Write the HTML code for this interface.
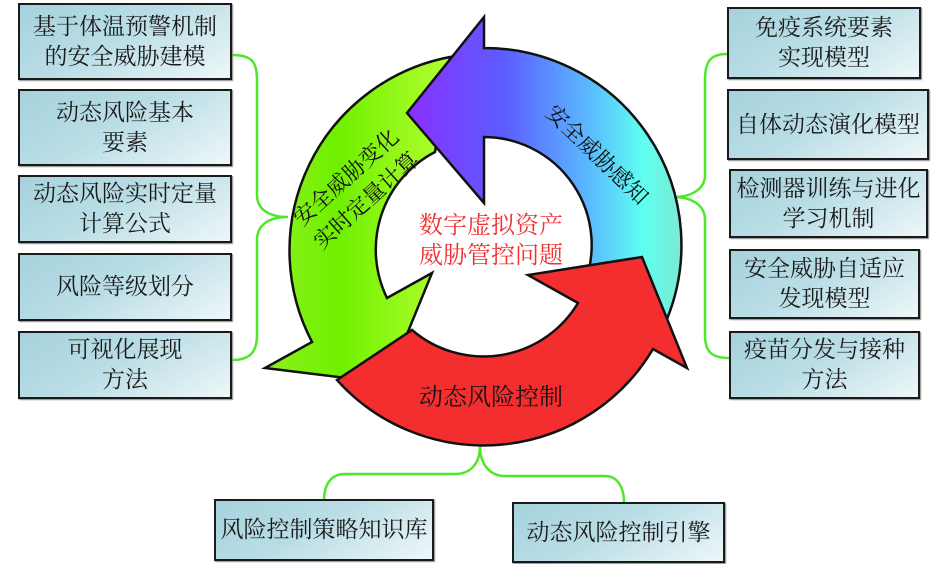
<!DOCTYPE html>
<html><head><meta charset="utf-8"><style>
html,body{margin:0;padding:0;background:#fff;}
body{width:945px;height:564px;position:relative;overflow:hidden;font-family:"Liberation Serif","Noto Serif CJK SC",serif;}
.b{position:absolute;box-sizing:border-box;border:2.5px solid #1a1a1a;background:linear-gradient(150deg,#a6d2dd 0%,#b9dde5 45%,#eef7f9 100%);display:flex;align-items:center;justify-content:center;text-align:center;font-size:23px;line-height:30px;color:#1a1a1a;box-shadow:1px 1px 1px #888;}
svg{position:absolute;left:0;top:0;}
</style></head><body>
<svg width="945" height="564" viewBox="0 0 945 564">
<defs>
<linearGradient id="gb" x1="407" y1="0" x2="685" y2="0" gradientUnits="userSpaceOnUse">
<stop offset="0" stop-color="#8a30ff"/><stop offset="0.35" stop-color="#5c5cff"/><stop offset="0.65" stop-color="#5ab8ff"/><stop offset="0.85" stop-color="#5ffff0"/><stop offset="1" stop-color="#7ee8d0"/></linearGradient>
<linearGradient id="gg" x1="265" y1="0" x2="450" y2="0" gradientUnits="userSpaceOnUse">
<stop offset="0" stop-color="#8cf020"/><stop offset="0.4" stop-color="#70f000"/><stop offset="1" stop-color="#b4ff30"/></linearGradient>
</defs>
<g fill="none" stroke="#4de82a" stroke-width="2.5">
<path d="M232,55 C252,55 257,62 257,80 L257,195 C257,210 270,217 288,217 C270,217 257,224 257,240 L257,335 C257,352 250,360 232,360"/>
<path d="M727,54 C710,54 705,62 705,80 L705,175 C705,190 690,197 674,197 C690,197 705,204 705,220 L705,335 C705,352 712,358 729,358"/>
<path d="M480,446 C480,462 472,474 455,474 L345,474 C330,474 324,486 324,500"/>
<path d="M480,446 C480,462 488,476 505,476 L605,476 C618,476 624,488 624,502"/>
</g>
<g stroke="#111" stroke-width="2.5" stroke-linejoin="miter">
<path fill="url(#gg)" d="M450,57 A197,197 0 0 0 312,342 L265,368 L387,383 L432,273 L387,298 A110,110 0 0 1 435,152 Z"/>
<path fill="url(#gb)" d="M484,17 L407,113 L484,203 L484,137 A108,108 0 0 1 584,285 L667,319 A197,197 0 0 0 484,48 Z"/>
<path fill="#f42e2e" d="M337,380 A197,197 0 0 0 653,349 L687,368 L642,257 L528,275 L578,303 A110,110 0 0 1 412,330 Z"/>
</g>
<g font-family="Liberation Serif,Noto Serif CJK SC,serif" font-size="22" fill="#111" text-anchor="middle">
<text transform="translate(592,160) rotate(44)">安全威胁感知</text>
<text transform="translate(351,183) rotate(-42)">安全威胁变化</text>
<text transform="translate(371,206) rotate(-42)">实时定量计算</text>
<text x="491" y="405" font-size="24">动态风险控制</text>
<text x="491" y="233" font-size="24" fill="#f03232">数字虚拟资产</text>
<text x="491" y="263" font-size="24" fill="#f03232">威胁管控问题</text>
</g>
</svg>
<div class="b" style="left:18px;top:3px;width:214px;height:77px;">基于体温预警机制<br>的安全威胁建模</div>
<div class="b" style="left:18px;top:89px;width:214px;height:77px;">动态风险基本<br>要素</div>
<div class="b" style="left:18px;top:175px;width:214px;height:68px;">动态风险实时定量<br>计算公式</div>
<div class="b" style="left:18px;top:253px;width:214px;height:68px;">风险等级划分</div>
<div class="b" style="left:18px;top:331px;width:214px;height:68px;">可视化展现<br>方法</div>
<div class="b" style="left:727px;top:7px;width:194px;height:72px;">免疫系统要素<br>实现模型</div>
<div class="b" style="left:727px;top:89px;width:202px;height:71px;">自体动态演化模型</div>
<div class="b" style="left:729px;top:169px;width:199px;height:69px;">检测器训练与进化<br>学习机制</div>
<div class="b" style="left:729px;top:249px;width:191px;height:70px;">安全威胁自适应<br>发现模型</div>
<div class="b" style="left:729px;top:331px;width:191px;height:68px;">疫苗分发与接种<br>方法</div>
<div class="b" style="left:214px;top:499px;width:220px;height:62px;">风险控制策略知识库</div>
<div class="b" style="left:512px;top:502px;width:213px;height:61px;">动态风险控制引擎</div>
</body></html>
